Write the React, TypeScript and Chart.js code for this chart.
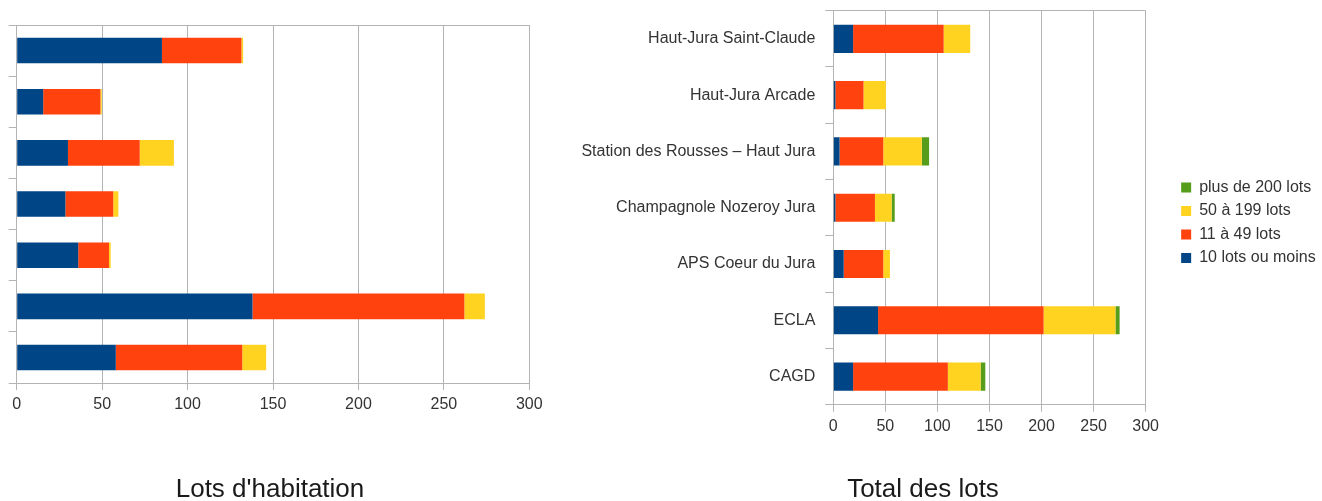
import React, { useEffect, useRef } from 'react';
import { Chart, registerables } from 'chart.js';

Chart.register(...registerables);

const categories = [
  'Haut-Jura Saint-Claude',
  'Haut-Jura Arcade',
  'Station des Rousses – Haut Jura',
  'Champagnole Nozeroy Jura',
  'APS Coeur du Jura',
  'ECLA',
  'CAGD',
];
const seriesNames = ['10 lots ou moins', '11 à 49 lots', '50 à 199 lots', 'plus de 200 lots'];

// Lots d'habitation
const habitationSmall = [85, 15.5, 30, 28.5, 36, 138, 58];
const habitationMedium = [46.5, 33.5, 42, 28, 18, 124, 74];
const habitationLarge = [1, 0.8, 20, 3, 1, 12, 14];

// Total des lots
const totalSmall = [19, 2, 6, 2, 10, 43, 19];
const totalMedium = [87, 27, 42, 38, 38, 159, 91];
const totalLarge = [25.5, 21.5, 37, 16, 6.4, 69, 31.5];
const totalXL = [0, 0, 7, 3, 0, 4, 4.5];

const xTicks = [0, 50, 100, 150, 200, 250, 300];

const titles = ["Lots d'habitation", 'Total des lots'];

const COLORS = ['#004586', '#ff420e', '#ffd320', '#579d1c'];
const GRID = '#b3b3b3';
const TEXT = '#333333';
const FONT = '"Liberation Sans", Arial, sans-serif';

Chart.defaults.font.family = FONT;

function makeDatasets(series: number[][]) {
  return series.map((data, i) => ({
    label: seriesNames[i],
    data,
    backgroundColor: COLORS[i],
    borderWidth: 0,
    barPercentage: 0.5,
    categoryPercentage: 1,
  }));
}

function xScale(padRight: number) {
  return {
    stacked: true,
    min: xTicks[0],
    max: xTicks[xTicks.length - 1],
    ticks: { stepSize: xTicks[1] - xTicks[0], color: TEXT, font: { size: 16 }, padding: 5 },
    grid: { color: GRID, tickLength: 7, tickColor: GRID },
    border: { color: GRID },
    afterFit: (s: any) => {
      s.paddingRight = padRight;
    },
  };
}

function yScale(showLabels: boolean, width: number) {
  return {
    stacked: true,
    ticks: showLabels
      ? { color: TEXT, font: { size: 16 }, padding: 10 }
      : { display: false },
    grid: {
      offset: true,
      color: (ctx: any) => (ctx.index === 0 ? GRID : 'rgba(0,0,0,0)'),
      tickColor: GRID,
      tickLength: 8,
    },
    border: { color: GRID },
    afterFit: (s: any) => {
      s.width = width;
      s.paddingTop = 0;
      s.paddingBottom = 0;
    },
  };
}

function titleOpts(text: string, padTop: number) {
  return {
    display: true,
    text,
    position: 'bottom',
    color: '#1a1a1a',
    font: { size: 26, weight: 'normal' },
    padding: { top: padTop, bottom: 0 },
  };
}

const legendShift = {
  id: 'legendShift',
  afterLayout(chart: any) {
    const lg = chart.legend;
    if (!lg) return;
    const dx = 28;
    const dy = -35.15;
    lg.left += dx;
    lg.right += dx;
    lg.top += dy;
    lg.bottom += dy;
  },
};

export default function App() {
  const leftRef = useRef<HTMLCanvasElement>(null);
  const rightRef = useRef<HTMLCanvasElement>(null);

  useEffect(() => {
    const left = new Chart(leftRef.current!, {
      type: 'bar',
      data: {
        labels: categories,
        datasets: makeDatasets([habitationSmall, habitationMedium, habitationLarge]),
      },
      options: {
        indexAxis: 'y',
        responsive: false,
        animation: false,
        layout: { padding: { top: 25, left: 0, right: 0, bottom: 0 } },
        plugins: {
          legend: { display: false },
          tooltip: { enabled: false },
          title: titleOpts(titles[0], 54.5),
        },
        scales: {
          x: xScale(13.7),
          y: yScale(false, 19.7),
        },
      } as any,
    });

    const right = new Chart(rightRef.current!, {
      type: 'bar',
      data: {
        labels: categories,
        datasets: makeDatasets([totalSmall, totalMedium, totalLarge, totalXL]),
      },
      options: {
        indexAxis: 'y',
        responsive: false,
        animation: false,
        layout: { padding: { top: 10.7, left: 0, right: 0, bottom: 0 } },
        plugins: {
          legend: {
            position: 'right',
            reverse: true,
            labels: {
              boxWidth: 10,
              boxHeight: 10,
              padding: 7.5,
              color: TEXT,
              font: { size: 16 },
            },
          },
          tooltip: { enabled: false },
          title: titleOpts(titles[1], 32.9),
        },
        scales: {
          x: xScale(180.35),
          y: yScale(true, 313.3),
        },
      } as any,
      plugins: [legendShift],
    });

    return () => {
      left.destroy();
      right.destroy();
    };
  }, []);

  return (
    <div
      style={{
        position: 'absolute',
        left: 0,
        top: 0,
        width: 1322,
        height: 501,
        overflow: 'hidden',
        background: '#ffffff',
      }}
    >
      <canvas
        ref={leftRef}
        width={546}
        height={505}
        style={{ position: 'absolute', left: -3, top: 0, width: 546, height: 505 }}
      />
      <canvas
        ref={rightRef}
        width={806}
        height={505}
        style={{ position: 'absolute', left: 520, top: 0, width: 806, height: 505 }}
      />
    </div>
  );
}
